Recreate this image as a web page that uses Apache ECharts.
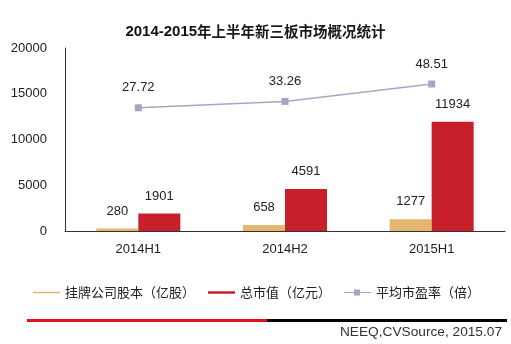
<!DOCTYPE html>
<html>
<head>
<meta charset="utf-8">
<script src="https://cdn.jsdelivr.net/npm/echarts@6/dist/echarts.min.js"></script>
<style>html,body{margin:0;padding:0;background:#fff;}#c{width:511px;height:344px;}</style>
</head>
<body>
<div id="c"></div>
<script>
var categories = ['2014H1', '2014H2', '2015H1'];
var shareCapital = [280, 658, 1277];
var marketValue = [1901, 4591, 11934];
var peRatio = [27.72, 33.26, 48.51];
var seriesNames = ['挂牌公司股本（亿股）', '总市值（亿元）', '平均市盈率（倍）'];
var yTicks = [0, 5000, 10000, 15000, 20000];

var FONT = "'Liberation Sans', 'Noto Sans CJK SC', sans-serif";
var chart = echarts.init(document.getElementById('c'));
chart.setOption({
  animation: false,
  backgroundColor: '#fff',
  textStyle: { fontFamily: FONT },
  title: {
    text: '{a|2014-2015}{b|年上半年新三板市场概况统计}',
    left: 'center',
    top: 19,
    textStyle: {
      rich: {
        a: { fontFamily: FONT, fontSize: 15, fontWeight: 'bold', color: '#111' },
        b: { fontFamily: "'Noto Sans CJK SC', sans-serif", fontSize: 14.5, fontWeight: 'bold', color: '#1a1a1a' }
      }
    }
  },
  legend: {
    left: 28,
    top: 281,
    itemWidth: 27,
    itemHeight: 14,
    itemGap: 13,
    textStyle: { fontSize: 13, color: '#222', fontFamily: "'Noto Sans CJK SC', sans-serif" },
    data: [
      { name: seriesNames[0], icon: 'path://M0,0H27V1.5H0Z' },
      { name: seriesNames[1], icon: 'path://M0,0H27V2.5H0Z' },
      { name: seriesNames[2], icon: 'path://M0,2.6H10V3.6H0Z M10,0H16V6H10Z M16,2.6H27V3.6H16Z' }
    ]
  },
  grid: { left: 65, right: 6, top: 48, bottom: 113 },
  xAxis: {
    type: 'category',
    data: categories,
    axisLine: { lineStyle: { color: '#333', width: 1 } },
    axisTick: { show: false },
    axisLabel: { fontSize: 13, color: '#222', margin: 12, fontFamily: FONT }
  },
  yAxis: [
    {
      type: 'value',
      min: yTicks[0],
      max: yTicks[yTicks.length - 1],
      interval: 5000,
      axisLine: { show: true, lineStyle: { color: '#333', width: 1 } },
      axisTick: { show: false },
      splitLine: { show: false },
      axisLabel: { fontSize: 13, color: '#222', margin: 18, fontFamily: FONT, formatter: function (v) { return String(v); } }
    },
    {
      type: 'value',
      min: -80,
      max: 80,
      show: false,
      splitLine: { show: false }
    }
  ],
  series: [
    {
      name: seriesNames[0],
      type: 'bar',
      data: shareCapital,
      barWidth: 42,
      barGap: '0%',
      itemStyle: { color: '#E2B66E' },
      label: { show: true, position: 'top', distance: 11, fontSize: 13, color: '#222', fontFamily: FONT }
    },
    {
      name: seriesNames[1],
      type: 'bar',
      data: marketValue,
      barWidth: 42,
      barGap: '0%',
      itemStyle: { color: '#C8202B' },
      label: { show: true, position: 'top', distance: 11, fontSize: 13, color: '#222', fontFamily: FONT }
    },
    {
      name: seriesNames[2],
      type: 'line',
      yAxisIndex: 1,
      data: peRatio,
      symbol: 'rect',
      symbolSize: 7,
      itemStyle: { color: '#A5A6C4' },
      lineStyle: { color: '#A5A6C4', width: 1.5 },
      label: { show: true, position: 'top', distance: 10, fontSize: 13, color: '#222', fontFamily: FONT }
    }
  ],
  graphic: [
    { type: 'rect', shape: { x: 27, y: 319, width: 240, height: 3 }, style: { fill: '#E3101A' } },
    { type: 'rect', shape: { x: 267, y: 319, width: 240, height: 3 }, style: { fill: '#000' } },
    { type: 'text', x: 502, y: 332, style: { text: 'NEEQ,CVSource, 2015.07', align: 'right', verticalAlign: 'middle', fontSize: 13.7, fill: '#333', fontFamily: FONT } }
  ]
});
</script>
</body>
</html>
